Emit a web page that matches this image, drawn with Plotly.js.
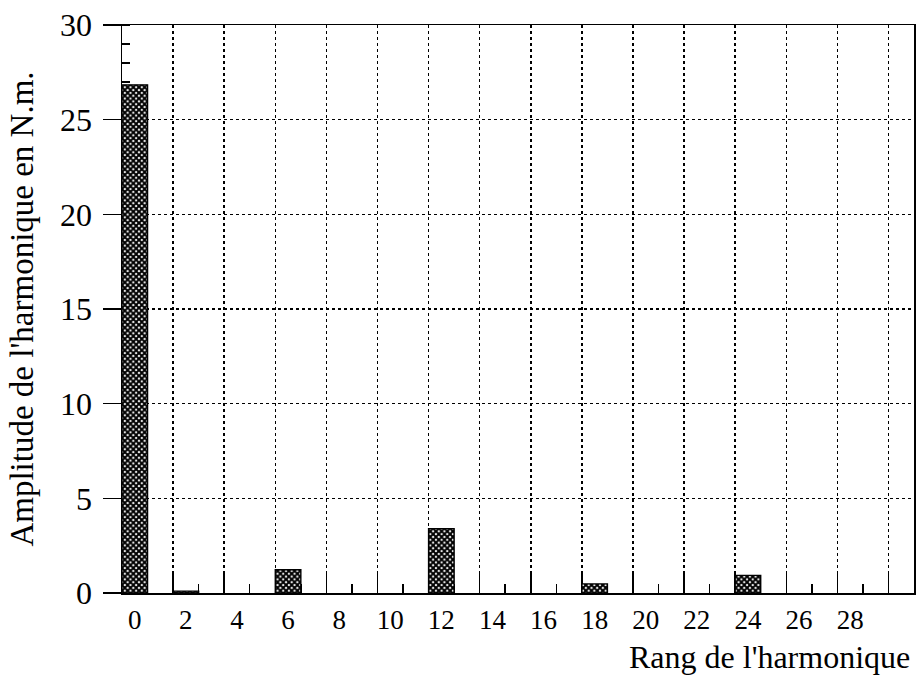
<!DOCTYPE html>
<html><head><meta charset="utf-8">
<script src="https://cdn.plot.ly/plotly-3.0.1.min.js"></script>
<style>html,body{margin:0;padding:0;background:#fff}</style>
</head><body>
<div id="chart" style="width:917px;height:677px"></div>
<script>
// Data
const harmonicRanks = [0, 2, 6, 12, 18, 24];
const amplitudes = [26.84, 0.1, 1.23, 3.40, 0.48, 0.93];
const xTickVals = [0, 2, 4, 6, 8, 10, 12, 14, 16, 18, 20, 22, 24, 26, 28];
const xTickText = ["0","2","4","6","8","10","12","14","16","18","20","22","24","26","28"];
const yTickVals = [0, 5, 10, 15, 20, 25, 30];

const FONT = "Liberation Serif, Times New Roman, serif";

const traces = [
  {
    type: "bar",
    x: harmonicRanks,
    y: amplitudes,
    width: 1,
    marker: {
      color: "#1a1a1a",
      line: {color: "#000", width: 1.4},
      pattern: {shape: "x", fgcolor: "#000000", bgcolor: "#ffffff", size: 4, solidity: 0.75}
    },
    hoverinfo: "x+y",
    xaxis: "x",
    yaxis: "y"
  },
  {
    type: "scatter",
    x: [],
    y: [],
    xaxis: "x2",
    yaxis: "y",
    showlegend: false,
    hoverinfo: "skip"
  }
];

const layout = {
  width: 917,
  height: 677,
  margin: {l: 122, r: 3, t: 25, b: 84},
  paper_bgcolor: "#fff",
  plot_bgcolor: "#fff",
  showlegend: false,
  bargap: 0,
  font: {family: FONT, color: "#000"},
  xaxis: {
    range: [-0.5, 30.5],
    tickmode: "array",
    tickvals: xTickVals,
    ticktext: xTickText,
    ticks: "",
    showgrid: false,
    zeroline: false,
    showline: true,
    mirror: true,
    linecolor: "#000",
    linewidth: 1.5,
    tickfont: {family: FONT, size: 27, color: "#000"},
    ticklabelstandoff: 2,
    layer: "below traces"
  },
  xaxis2: {
    overlaying: "x",
    anchor: "y",
    side: "bottom",
    range: [-0.5, 30.5],
    tickmode: "linear",
    tick0: 1.5,
    dtick: 2,
    ticks: "inside",
    ticklen: 20,
    tickwidth: 1.5,
    tickcolor: "#000",
    showticklabels: false,
    showgrid: true,
    gridcolor: "#000",
    gridwidth: 1.5,
    griddash: "dot",
    zeroline: false,
    showline: false,
    layer: "below traces",
    minor: {tick0: 0.5, dtick: 1, ticks: "inside", ticklen: 9, tickwidth: 1.5, tickcolor: "#000", showgrid: false}
  },
  yaxis: {
    range: [0, 30],
    tickmode: "array",
    tickvals: yTickVals,
    ticks: "outside",
    ticklen: 18,
    tickwidth: 1.5,
    tickcolor: "#000",
    showgrid: true,
    gridcolor: "#000",
    gridwidth: 1.5,
    griddash: "dot",
    zeroline: false,
    showline: true,
    mirror: true,
    linecolor: "#000",
    linewidth: 1.5,
    tickfont: {family: FONT, size: 32, color: "#000"},
    ticklabelstandoff: 4,
    layer: "below traces",
    minor: {tickmode: "linear", tick0: 0, dtick: 1, ticks: "inside", ticklen: 8, tickwidth: 1.5, tickcolor: "#000", showgrid: false},
    title: {text: "Amplitude de l'harmonique en N.m.", font: {family: FONT, size: 33, color: "#000"}, standoff: 16}
  },
  annotations: [
    {
      text: "Rang de l'harmonique",
      xref: "paper", yref: "paper",
      x: 1, y: 0,
      xanchor: "right", yanchor: "top",
      xshift: -2, yshift: -44,
      showarrow: false,
      font: {family: FONT, size: 32, color: "#000"}
    }
  ]
};

Plotly.newPlot("chart", traces, layout, {displayModeBar: false, staticPlot: true});
</script>
</body></html>
